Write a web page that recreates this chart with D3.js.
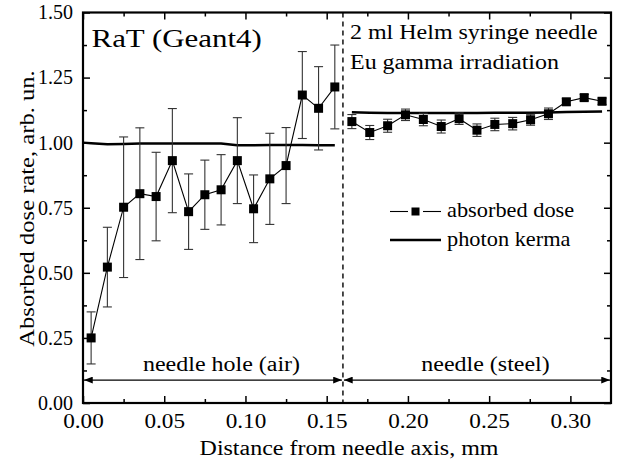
<!DOCTYPE html>
<html>
<head>
<meta charset="utf-8">
<script src="https://cdn.jsdelivr.net/npm/d3@7"></script>
<style>
  body { margin: 0; background: #fff; }
  svg { display: block; }
  svg text { font-family: "Liberation Serif", "DejaVu Serif", "Noto Serif", serif !important; fill: #000; }
</style>
</head>
<body>
<svg id="chart" width="617" height="468" font-family="Liberation Serif, DejaVu Serif, serif"></svg>
<script>
// Absorbed dose in the needle hole (air), 0.01 mm bins
const airX    = [0.005, 0.015, 0.025, 0.035, 0.045, 0.055, 0.065, 0.075, 0.085, 0.095, 0.105, 0.115, 0.125, 0.135, 0.145, 0.155];
const airDose = [0.250, 0.522, 0.752, 0.804, 0.793, 0.931, 0.735, 0.800, 0.819, 0.931, 0.746, 0.861, 0.912, 1.183, 1.132, 1.214];
const airErr  = [0.100, 0.153, 0.270, 0.253, 0.170, 0.200, 0.145, 0.133, 0.135, 0.165, 0.130, 0.175, 0.146, 0.167, 0.160, 0.161];

// Absorbed dose in the needle wall (steel), 0.011 mm bins
const steelX    = [0.1655, 0.1765, 0.1875, 0.1985, 0.2095, 0.2205, 0.2315, 0.2425, 0.2535, 0.2645, 0.2755, 0.2865, 0.2975, 0.3085, 0.3195];
const steelDose = [1.081, 1.039, 1.065, 1.107, 1.089, 1.062, 1.092, 1.048, 1.070, 1.073, 1.088, 1.111, 1.157, 1.173, 1.159];
const steelErr  = [0.027, 0.027, 0.025, 0.022, 0.024, 0.025, 0.022, 0.024, 0.024, 0.024, 0.021, 0.022, 0.012, 0.012, 0.012];

// Photon kerma
const kermaAirX  = [0.000, 0.005, 0.015, 0.025, 0.035, 0.045, 0.055, 0.065, 0.075, 0.085, 0.095, 0.105, 0.115, 0.125, 0.135, 0.145, 0.155];
const kermaAir   = [1.000, 0.998, 0.994, 0.995, 0.997, 0.997, 0.997, 0.997, 0.997, 0.997, 0.990, 0.990, 0.991, 0.991, 0.991, 0.990, 0.990];
const kermaSteelX = steelX;
const kermaSteel = [1.117, 1.115, 1.114, 1.114, 1.114, 1.114, 1.114, 1.114, 1.115, 1.115, 1.115, 1.116, 1.118, 1.119, 1.120];

// Axis ticks
const xMajor = [0.00, 0.05, 0.10, 0.15, 0.20, 0.25, 0.30];
const xMinor = [0.025, 0.075, 0.125, 0.175, 0.225, 0.275];
const yMajor = [0.00, 0.25, 0.50, 0.75, 1.00, 1.25, 1.50];
const yMinor = [0.125, 0.375, 0.625, 0.875, 1.125, 1.375];

const boundary = 0.16;       // air / steel interface
const xMax = 0.325;
const SERIF = "Liberation Serif, DejaVu Serif, serif";

const svg = d3.select("#chart");
const m = { left: 83, right: 6, top: 12.5, bottom: 65 };
const W = 617, H = 468;
const x = d3.scaleLinear().domain([0, xMax]).range([m.left, W - m.right]);
const y = d3.scaleLinear().domain([0, 1.5]).range([H - m.bottom, m.top]);

// Horizontally widened serif text
function widen(sel, k) {
  sel.each(function () {
    const t = d3.select(this);
    const tx = +t.attr("x") || 0, ty = +t.attr("y") || 0;
    const base = t.attr("transform") || "";
    t.attr("x", 0).attr("y", 0)
     .attr("transform", `${base} translate(${tx},${ty}) scale(${k},1)`);
  });
}

const defs = svg.append("defs");
defs.append("marker").attr("id", "arrowEnd")
  .attr("viewBox", "0 0 10 8").attr("refX", 10).attr("refY", 4)
  .attr("markerWidth", 11).attr("markerHeight", 7).attr("markerUnits", "userSpaceOnUse")
  .attr("orient", "auto")
  .append("path").attr("d", "M0,0 L10,4 L0,8 Z").attr("fill", "#000");
defs.append("marker").attr("id", "arrowStart")
  .attr("viewBox", "0 0 10 8").attr("refX", 0).attr("refY", 4)
  .attr("markerWidth", 11).attr("markerHeight", 7).attr("markerUnits", "userSpaceOnUse")
  .attr("orient", "auto")
  .append("path").attr("d", "M10,0 L0,4 L10,8 Z").attr("fill", "#000");

// ---- axes (ticks pointing inward on all four sides) ----
const x0 = m.left, x1 = W - m.right, y0 = H - m.bottom, y1 = m.top;

function tickAxis(axis, pos, values, size, labels) {
  const g = svg.append("g").attr("transform", pos)
    .call(axis.tickValues(values).tickSizeInner(-size).tickSizeOuter(0)
      .tickFormat(labels ? d3.format(".2f") : ""));
  g.attr("font-family", SERIF);
  g.select(".domain").remove();
  g.selectAll(".tick line").attr("stroke", "#000").attr("stroke-width", 1.5);
  return g;
}

const gxb = tickAxis(d3.axisBottom(x).tickPadding(11), `translate(0,${y0})`, xMajor, 7, true);
tickAxis(d3.axisBottom(x), `translate(0,${y0})`, xMinor, 4, false);
tickAxis(d3.axisTop(x), `translate(0,${y1})`, xMajor, 7, false);
tickAxis(d3.axisTop(x), `translate(0,${y1})`, xMinor, 4, false);
const gyl = tickAxis(d3.axisLeft(y).tickPadding(10), `translate(${x0},0)`, yMajor, 7, true);
tickAxis(d3.axisLeft(y), `translate(${x0},0)`, yMinor, 4, false);
tickAxis(d3.axisRight(y), `translate(${x1},0)`, yMajor, 7, false);
tickAxis(d3.axisRight(y), `translate(${x1},0)`, yMinor, 4, false);

gxb.selectAll(".tick text").attr("font-size", 20).attr("fill", "#000");
widen(gxb.selectAll(".tick text"), 1.16);
gyl.selectAll(".tick text").attr("font-size", 20).attr("fill", "#000");

// frame
svg.append("rect").attr("x", x0).attr("y", y1).attr("width", x1 - x0).attr("height", y0 - y1)
  .attr("fill", "none").attr("stroke", "#000").attr("stroke-width", 2.2);

// interface line
svg.append("line").attr("x1", x(boundary)).attr("x2", x(boundary)).attr("y1", y1).attr("y2", y0)
  .attr("stroke", "#000").attr("stroke-width", 1.4).attr("stroke-dasharray", "5,4");

// region arrows
const arrowY = 0.088;
[[0, boundary], [boundary, xMax]].forEach(([a, b]) => {
  svg.append("line").attr("x1", x(a) + 1).attr("x2", x(b) - 1)
    .attr("y1", y(arrowY)).attr("y2", y(arrowY))
    .attr("stroke", "#000").attr("stroke-width", 1.2)
    .attr("marker-start", "url(#arrowStart)").attr("marker-end", "url(#arrowEnd)");
});

// ---- kerma lines ----
const line = d3.line().x(d => x(d[0])).y(d => y(d[1]));
[[kermaAirX, kermaAir], [kermaSteelX, kermaSteel]].forEach(([xs, vs]) => {
  svg.append("path").datum(xs.map((v, i) => [v, vs[i]])).attr("d", line)
    .attr("fill", "none").attr("stroke", "#000").attr("stroke-width", 2.4);
});

// ---- absorbed dose with error bars ----
function doseSeries(xs, vs, es) {
  const pts = xs.map((v, i) => ({ x: v, v: vs[i], e: es[i] }));
  const g = svg.append("g");
  const eb = g.selectAll(".eb").data(pts).join("g").attr("stroke", "#333").attr("stroke-width", 1.1);
  eb.append("line").attr("x1", d => x(d.x)).attr("x2", d => x(d.x))
    .attr("y1", d => y(d.v - d.e)).attr("y2", d => y(d.v + d.e));
  eb.append("line").attr("x1", d => x(d.x) - 4.5).attr("x2", d => x(d.x) + 4.5)
    .attr("y1", d => y(d.v + d.e)).attr("y2", d => y(d.v + d.e));
  eb.append("line").attr("x1", d => x(d.x) - 4.5).attr("x2", d => x(d.x) + 4.5)
    .attr("y1", d => y(d.v - d.e)).attr("y2", d => y(d.v - d.e));
  g.append("path").datum(pts.map(d => [d.x, d.v])).attr("d", line)
    .attr("fill", "none").attr("stroke", "#000").attr("stroke-width", 1.1);
  g.selectAll("rect").data(pts).join("rect")
    .attr("x", d => x(d.x) - 4.5).attr("y", d => y(d.v) - 4.5)
    .attr("width", 9).attr("height", 9).attr("fill", "#000");
}
doseSeries(airX, airDose, airErr);
doseSeries(steelX, steelDose, steelErr);

// ---- legend ----
const lg = svg.append("g");
lg.append("line").attr("x1", 390).attr("x2", 408).attr("y1", 211.5).attr("y2", 211.5).attr("stroke", "#000").attr("stroke-width", 1.1);
lg.append("line").attr("x1", 423).attr("x2", 441).attr("y1", 211.5).attr("y2", 211.5).attr("stroke", "#000").attr("stroke-width", 1.1);
lg.append("rect").attr("x", 411.5).attr("y", 207.5).attr("width", 8).attr("height", 8).attr("fill", "#000");
lg.append("line").attr("x1", 390).attr("x2", 441).attr("y1", 240).attr("y2", 240).attr("stroke", "#000").attr("stroke-width", 2.4);

// ---- text ----
function label(txt, tx, ty, size, k, anchor) {
  const t = svg.append("text").attr("x", tx).attr("y", ty).attr("font-size", size)
    .attr("font-family", SERIF)
    .attr("text-anchor", anchor || "start").text(txt);
  widen(t, k);
  return t;
}
label("absorbed dose", 447, 216.7, 20.5, 1.09);
label("photon kerma", 447, 245.7, 20.5, 1.09);
label("RaT (Geant4)", 91.5, 46.5, 26, 1.19);
label("2 ml Helm syringe needle", 350, 38.5, 20.5, 1.17);
label("Eu gamma irradiation", 350, 68.5, 20.5, 1.17);
label("needle hole (air)", 221.5, 370.5, 20.5, 1.17, "middle");
label("needle (steel)", 485.5, 370.5, 20.5, 1.17, "middle");
label("Distance from needle axis, mm", 349, 455, 20.5, 1.17, "middle");

svg.append("text").attr("font-size", 20.5).attr("text-anchor", "middle")
  .attr("font-family", SERIF)
  .attr("transform", `translate(33.5,208.5) rotate(-90) scale(1.2,1)`)
  .text("Absorbed dose rate, arb. un.");
</script>
</body>
</html>
